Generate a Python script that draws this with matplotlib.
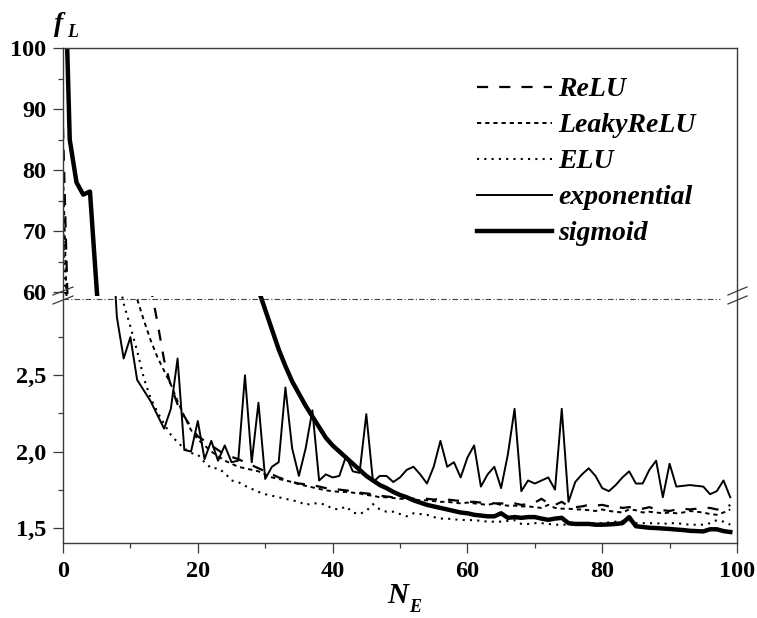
import numpy as np
import matplotlib
matplotlib.use("Agg")
import matplotlib.pyplot as plt
from matplotlib.lines import Line2D
from matplotlib.ticker import MultipleLocator, FixedLocator, FuncFormatter

# loss f_L per training epoch N_E for each activation function
epochs = np.arange(0, 100)

relu = [
    87, 45, 30, 22, 16, 12, 9, 7, 5.5, 4.6,
    4.0, 3.6, 3.3, 3.08, 2.85, 2.60, 2.43, 2.31, 2.23, 2.16,
    2.10, 2.07, 2.04, 2.01, 1.98, 1.965, 1.95, 1.93, 1.91, 1.89,
    1.87, 1.85, 1.83, 1.815, 1.80, 1.79, 1.785, 1.78, 1.77, 1.76,
    1.755, 1.75, 1.745, 1.74, 1.73, 1.725, 1.72, 1.71, 1.705, 1.70,
    1.70, 1.695, 1.69, 1.69, 1.69, 1.685, 1.69, 1.685, 1.68, 1.675,
    1.67, 1.67, 1.665, 1.665, 1.66, 1.66, 1.655, 1.66, 1.65, 1.655,
    1.665, 1.69, 1.66, 1.65, 1.67, 1.64, 1.635, 1.64, 1.65, 1.645,
    1.65, 1.64, 1.64, 1.63, 1.635, 1.63, 1.625, 1.635, 1.62, 1.615,
    1.61, 1.62, 1.625, 1.62, 1.625, 1.63, 1.63, 1.62, 1.62, 1.65,
]

leaky_relu = [
    80, 40, 25, 16, 11, 8, 6, 4.8, 4.0, 3.5,
    3.2, 3.0, 2.86, 2.73, 2.62, 2.53, 2.44, 2.33, 2.23, 2.14,
    2.08, 2.04, 2.0, 1.97, 1.94, 1.92, 1.90, 1.89, 1.88, 1.87,
    1.85, 1.83, 1.82, 1.81, 1.80, 1.785, 1.775, 1.765, 1.755, 1.745,
    1.74, 1.735, 1.735, 1.73, 1.725, 1.715, 1.71, 1.70, 1.70, 1.695,
    1.69, 1.69, 1.685, 1.68, 1.68, 1.675, 1.67, 1.67, 1.665, 1.66,
    1.665, 1.66, 1.655, 1.65, 1.66, 1.65, 1.645, 1.645, 1.64, 1.64,
    1.635, 1.63, 1.65, 1.63, 1.625, 1.625, 1.62, 1.62, 1.615, 1.61,
    1.62, 1.61, 1.605, 1.60, 1.62, 1.615, 1.60, 1.605, 1.60, 1.595,
    1.60, 1.595, 1.60, 1.61, 1.605, 1.60, 1.59, 1.585, 1.60, 1.62,
]

elu = [
    72, 35, 18, 10, 6.5, 5.0, 4.1, 3.6, 3.2, 2.97,
    2.82, 2.66, 2.48, 2.35, 2.26, 2.18, 2.11, 2.06, 2.02, 1.99,
    1.98, 1.93, 1.89, 1.89, 1.86, 1.81, 1.80, 1.775, 1.755, 1.735,
    1.72, 1.71, 1.70, 1.69, 1.68, 1.67, 1.65, 1.66, 1.66, 1.65,
    1.625, 1.62, 1.64, 1.60, 1.59, 1.61, 1.655, 1.62, 1.605, 1.605,
    1.59, 1.575, 1.595, 1.59, 1.585, 1.57, 1.56, 1.56, 1.555, 1.552,
    1.55, 1.55, 1.545, 1.54, 1.54, 1.54, 1.545, 1.55, 1.525, 1.525,
    1.53, 1.53, 1.525, 1.52, 1.52, 1.52, 1.52, 1.52, 1.525, 1.53,
    1.53, 1.535, 1.54, 1.545, 1.55, 1.53, 1.53, 1.53, 1.53, 1.525,
    1.53, 1.53, 1.525, 1.52, 1.52, 1.52, 1.53, 1.55, 1.54, 1.52,
]

exponential = [
    50, 30, 18, 11, 7.5, 5.5, 4.3, 3.6, 2.88, 2.61,
    2.75, 2.47, 2.40, 2.33, 2.24, 2.15, 2.28, 2.61, 2.01, 2.00,
    2.20, 1.95, 2.07, 1.94, 2.04, 1.93, 1.94, 2.50, 1.93, 2.32,
    1.82, 1.90, 1.93, 2.42, 2.02, 1.84, 2.02, 2.27, 1.81, 1.85,
    1.83, 1.84, 1.97, 1.87, 1.86, 2.245, 1.80, 1.84, 1.84, 1.80,
    1.83, 1.88, 1.90, 1.85, 1.79, 1.90, 2.07, 1.90, 1.93, 1.83,
    1.96, 2.04, 1.77, 1.85, 1.90, 1.76, 1.98, 2.28, 1.74, 1.81,
    1.79, 1.81, 1.83, 1.75, 2.28, 1.67, 1.80, 1.85, 1.89, 1.84,
    1.76, 1.74, 1.78, 1.83, 1.87, 1.79, 1.79, 1.88, 1.94, 1.70,
    1.92, 1.77, 1.775, 1.78, 1.775, 1.77, 1.72, 1.74, 1.81, 1.70,
]

sigmoid = [
    125, 85, 78, 76, 76.5, 60.5, 45, 35, 28, 22.5,
    18, 14.5, 12, 10, 8.5, 7.3, 6.4, 5.7, 5.1, 4.6,
    4.2, 3.9, 3.65, 3.48, 3.35, 3.26, 3.19, 3.14, 3.10, 3.06,
    2.93, 2.80, 2.67, 2.56, 2.46, 2.38, 2.30, 2.23, 2.16, 2.09,
    2.04, 2.00, 1.96, 1.92, 1.88, 1.84, 1.81, 1.78, 1.76, 1.735,
    1.715, 1.70, 1.68, 1.665, 1.65, 1.64, 1.63, 1.62, 1.61, 1.60,
    1.595, 1.585, 1.58, 1.575, 1.575, 1.595, 1.565, 1.57, 1.565, 1.57,
    1.57, 1.56, 1.552, 1.56, 1.565, 1.53, 1.525, 1.525, 1.525, 1.52,
    1.52, 1.522, 1.525, 1.53, 1.57, 1.51, 1.505, 1.50, 1.498, 1.495,
    1.492, 1.488, 1.485, 1.48, 1.478, 1.476, 1.49, 1.49, 1.478, 1.472,
]

series = [
    ("ReLU", relu, dict(lw=1.6, ls=(0, (5, 5)))),
    ("LeakyReLU", leaky_relu, dict(lw=1.4, ls=(0, (2.2, 2)))),
    ("ELU", elu, dict(lw=1.5, ls=(0, (1, 2.5)))),
    ("exponential", exponential, dict(lw=1.4, ls="-")),
    ("sigmoid", sigmoid, dict(lw=3.2, ls="-")),
]

low_ticks = [1.5, 2.0, 2.5]
low_minor = [1.75, 2.25, 2.75]

plt.rcParams["font.family"] = ["Liberation Serif", "DejaVu Serif"]
plt.rcParams["font.weight"] = "bold"

W, H = 757, 618
fig = plt.figure(figsize=(W / 100, H / 100), dpi=100)


def fpx(x, y):
    return x / W, 1 - y / H


left, right = 63, 737
top, brk, bottom = 48, 296, 543
ax_top = fig.add_axes([left / W, 1 - brk / H, (right - left) / W, (brk - top) / H])
ax_bot = fig.add_axes([left / W, 1 - bottom / H, (right - left) / W, (bottom - brk) / H])

for ax in (ax_top, ax_bot):
    for name, vals, style in series:
        ax.plot(epochs, vals, color="black", label=name, **style)
    ax.set_xlim(0, 100)
    for sp in ax.spines.values():
        sp.set_color("#3a3a3a")
        sp.set_linewidth(1.0)
    ax.tick_params(which="major", direction="out", length=7, width=0.9,
                   color="#3a3a3a", labelsize=17.5, pad=5)
    ax.tick_params(which="minor", direction="out", length=3.5, width=0.9,
                   color="#3a3a3a")

# upper part of the broken axis
ax_top.set_ylim(59.4, 100)
ax_top.yaxis.set_major_locator(MultipleLocator(10))
ax_top.yaxis.set_minor_locator(MultipleLocator(5))
ax_top.spines["bottom"].set_visible(False)
ax_top.tick_params(axis="x", which="both", bottom=False, labelbottom=False)

# lower part of the broken axis
ax_bot.set_ylim(1.4, 3.02)
ax_bot.yaxis.set_major_locator(FixedLocator(low_ticks))
ax_bot.yaxis.set_minor_locator(FixedLocator(low_minor))
ax_bot.yaxis.set_major_formatter(FuncFormatter(lambda v, p: f"{v:.1f}".replace(".", ",")))
ax_bot.xaxis.set_major_locator(MultipleLocator(20))
ax_bot.xaxis.set_minor_locator(MultipleLocator(10))
ax_bot.tick_params(axis="x", pad=6)
ax_bot.spines["top"].set_visible(False)
ax_bot.axhline(3.0, xmin=0, xmax=0.975, color="#444444", lw=0.8,
               ls=(0, (5, 2, 1, 2)))

# break marks on both vertical axes
for x0, x1 in ((53, 73), (728, 747)):
    for dy in (0, 9):
        (a, b), (c, d) = fpx(x0, 295 + dy), fpx(x1, 287 + dy)
        fig.add_artist(Line2D([a, c], [b, d], color="#3a3a3a", lw=0.9))

# axis titles
fig.text(*fpx(54, 31), "f", fontsize=20, style="italic", weight="bold")
fig.text(*fpx(67, 37), "L", fontsize=13, style="italic", weight="bold")
fig.text(*fpx(387, 603), "N", fontsize=21, style="italic", weight="bold")
fig.text(*fpx(409, 612), "E", fontsize=13, style="italic", weight="bold")

handles, labels = ax_top.get_legend_handles_labels()
fig.legend(handles, labels, loc="upper left", bbox_to_anchor=fpx(477, 77),
           frameon=False, borderpad=0, borderaxespad=0, handlelength=2.7,
           handletextpad=0.22, labelspacing=0.38,
           prop=dict(family="Liberation Serif", style="italic", weight="bold", size=20))

fig.savefig("out.png", dpi=100)
